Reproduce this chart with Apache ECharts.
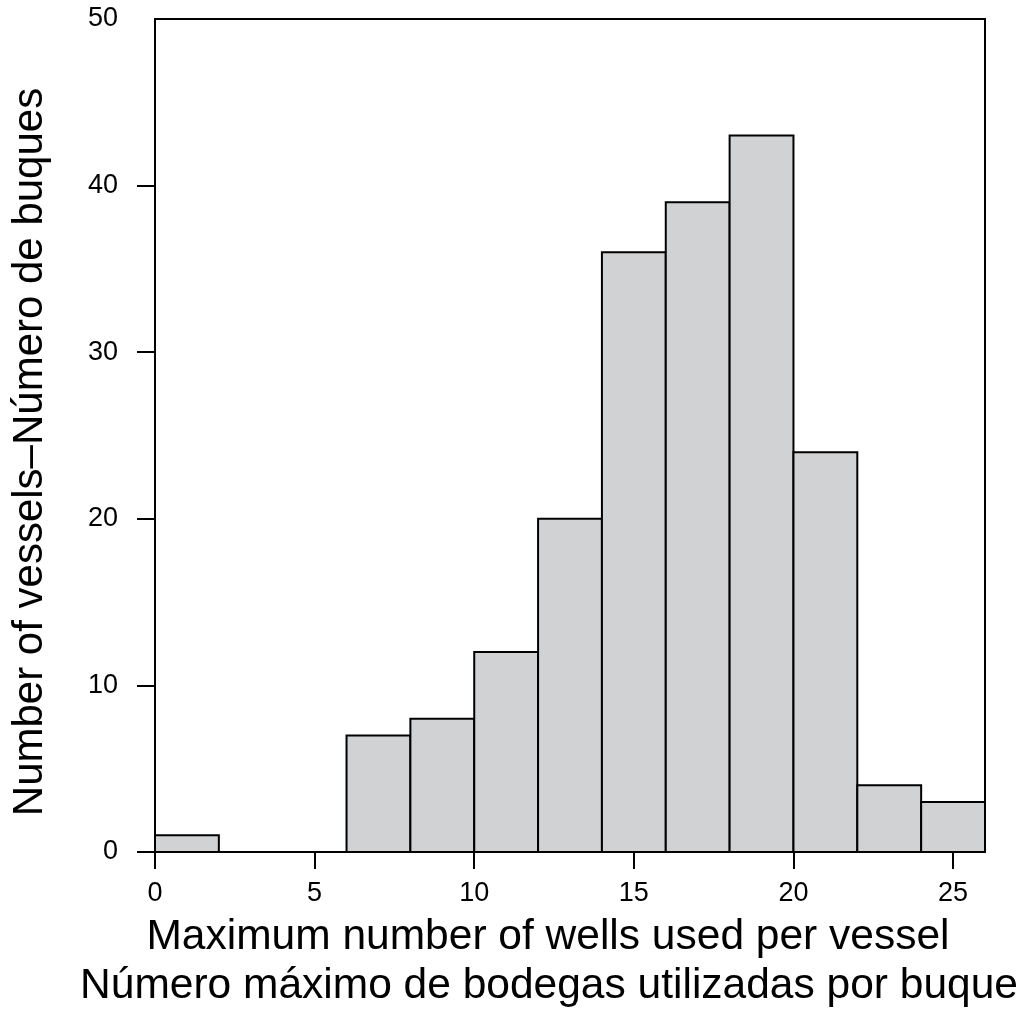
<!DOCTYPE html>
<html>
<head>
<meta charset="utf-8">
<script src="https://cdn.jsdelivr.net/npm/echarts@6/dist/echarts.min.js"></script>
<style>
  html, body { margin: 0; padding: 0; background: #fff; }
  #chart { width: 1024px; height: 1012px; }
</style>
</head>
<body>
<div id="chart"></div>
<script>
// histogram bins (width 2) and counts
const binStarts = [0, 2, 4, 6, 8, 10, 12, 14, 16, 18, 20, 22, 24]
const binWidth = 2
const counts = [1, 0, 0, 7, 8, 12, 20, 36, 39, 43, 24, 4, 3]
const xTicks = [0, 5, 10, 15, 20, 25]
const yTicks = [0, 10, 20, 30, 40]

const xTitle1 = 'Maximum number of wells used per vessel'
const xTitle2 = 'Número máximo de bodegas utilizadas por buque'
const yTitle = 'Number of vessels–Número de buques'

const font = '"Liberation Sans", Arial, sans-serif'

const chart = echarts.init(document.getElementById('chart'))

const option = {
  backgroundColor: '#fff',
  animation: false,
  grid: {
    left: 155, right: 39, top: 19, bottom: 160,
    show: true, borderColor: '#000', borderWidth: 2, backgroundColor: 'transparent',
  },
  xAxis: {
    type: 'value', min: 0, max: 26,
    splitLine: { show: false },
    axisLine: { show: true, lineStyle: { color: '#000', width: 2 } },
    axisTick: { show: true, customValues: xTicks, length: 17, lineStyle: { color: '#000', width: 2 } },
    axisLabel: { customValues: xTicks, color: '#000', fontSize: 27, fontFamily: font, margin: 28 },
  },
  yAxis: {
    type: 'value', min: 0, max: 50, interval: 10,
    splitLine: { show: false },
    axisLine: { show: true, lineStyle: { color: '#000', width: 2 } },
    axisTick: { show: true, customValues: yTicks, length: 18, lineStyle: { color: '#000', width: 2 } },
    axisLabel: { color: '#000', fontSize: 27, fontFamily: font, margin: 37 },
  },
  graphic: [
    {
      type: 'text', x: 548, y: 937,
      style: { text: xTitle1, fill: '#000', font: '42.5px ' + font, align: 'center', verticalAlign: 'middle' },
    },
    {
      type: 'text', x: 549, y: 986,
      style: { text: xTitle2, fill: '#000', font: '42.5px ' + font, align: 'center', verticalAlign: 'middle' },
    },
    {
      type: 'text', x: 30, y: 452, rotation: Math.PI / 2,
      style: { text: yTitle, fill: '#000', font: '42px ' + font, align: 'center', verticalAlign: 'middle' },
    },
  ],
  series: [
    {
      type: 'custom',
      data: binStarts.map((s, i) => [s, s + binWidth, counts[i]]),
      renderItem: (params, api) => {
        const p0 = api.coord([api.value(0), 0])
        const p1 = api.coord([api.value(1), api.value(2)])
        return {
          type: 'rect',
          shape: { x: p0[0], y: p1[1], width: p1[0] - p0[0], height: p0[1] - p1[1] },
          style: { fill: '#d1d2d4', stroke: '#000', lineWidth: 2 },
        }
      },
    },
  ],
}

chart.setOption(option)
</script>
</body>
</html>
